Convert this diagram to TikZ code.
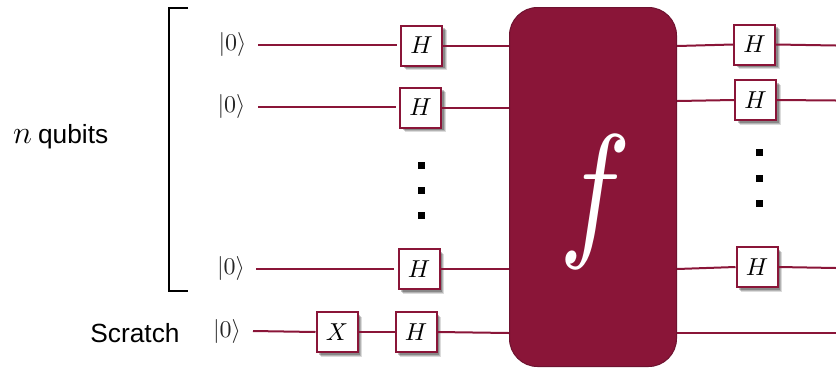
\documentclass[tikz,border=0pt]{standalone}
\usepackage{amsmath}
\usepackage{graphicx}
\usepackage{fontspec}
\setmainfont{Liberation Sans}
\usetikzlibrary{shadows}
\definecolor{wine}{HTML}{8A1538}
\definecolor{winedark}{HTML}{6E1230}
\newcommand{\gatesym}[1]{\raisebox{-1.5pt}{\scalebox{2.45}{$#1$}}}
\newcommand{\ketzero}{\scalebox{2.4}{$|0\rangle$}}
\tikzset{
  x=1pt,y=-1pt,
  softshade/.style={
    drop shadow={shadow xshift=4.5pt,shadow yshift=-4.5pt,fill=black,opacity=.14},
    drop shadow={shadow xshift=3.5pt,shadow yshift=-3.5pt,fill=black,opacity=.18},
    drop shadow={shadow xshift=2.5pt,shadow yshift=-2.5pt,fill=black,opacity=.24}},
  gate/.style={draw=wine,line width=2pt,fill=white,minimum width=41pt,minimum height=40pt,inner sep=0pt,softshade},
  wire/.style={draw=wine,line width=2pt},
  ket/.style={inner sep=0pt,text=black!85},
  lab/.style={font=\fontsize{26.3}{28}\selectfont,inner sep=0pt,text=black},
  dotm/.style={fill=black,minimum size=7pt,inner sep=0pt},
}
\begin{document}
\begin{tikzpicture}
\useasboundingbox (0,0) rectangle (836,368);
% big box
\node[draw=winedark,line width=1pt,fill=wine,rounded corners=28pt,minimum width=167pt,minimum height=359pt,inner sep=0pt] (fbox) at (593,187) {};
\node[text=white,inner sep=0pt] (flabel) at (595,202) {\scalebox{12}[15]{$f$}};
% kets
\node[ket] (k1) at (232.5,44) {\ketzero};
\node[ket] (k2) at (231.5,106) {\ketzero};
\node[ket] (k3) at (231,268) {\ketzero};
\node[ket] (k4) at (227,331) {\ketzero};
% wire starts and ends
\coordinate (s1) at (258,45);
\coordinate (s2) at (258,107);
\coordinate (s3) at (256,269);
\coordinate (s4) at (253,331);
\coordinate (e1) at (836,45.5);
\coordinate (e2) at (836,100.5);
\coordinate (e3) at (836,268);
\coordinate (e4) at (836,333);
% gates
\node[gate] (h1) at (421.5,45.5) {\gatesym{H}};
\node[gate] (h2) at (420.5,107.5) {\gatesym{H}};
\node[gate] (h3) at (419,269) {\gatesym{H}};
\node[gate] (x4) at (337,332) {\gatesym{X}};
\node[gate] (h4) at (416,332) {\gatesym{H}};
\node[gate] (r1) at (754.5,44.5) {\gatesym{H}};
\node[gate] (r2) at (755.5,100) {\gatesym{H}};
\node[gate] (r3) at (757,267) {\gatesym{H}};
% wires
\draw[wire] (s1) -- (397,45);
\draw[wire] (h1.east) -- (fbox.west |- h1.east);
\draw[wire] (s2) -- (396,107);
\draw[wire] (h2.east) -- (fbox.west |- h2.east);
\draw[wire] (s3) -- (394,269);
\draw[wire] (h3.east) -- (fbox.west |- h3.east);
\draw[wire] (s4) -- (x4.west);
\draw[wire] (x4.east) -- (h4.west);
\draw[wire] (h4.east) -- (fbox.west |- 0,333);
\draw[wire] (fbox.east |- 0,46) -- (r1.west);
\draw[wire] (r1.east) -- (e1);
\draw[wire] (fbox.east |- 0,101) -- (r2.west);
\draw[wire] (r2.east) -- (e2);
\draw[wire] (fbox.east |- 0,269) -- (r3.west);
\draw[wire] (r3.east) -- (e3);
\draw[wire] (fbox.east |- e4) -- (e4);
% dots
\node[dotm] (d1) at (421,165) {};
\node[dotm] (d2) at (421,190) {};
\node[dotm] (d3) at (421,215) {};
\node[dotm] (d4) at (759,152) {};
\node[dotm] (d5) at (759,178) {};
\node[dotm] (d6) at (759,203) {};
% bracket
\draw[black,line width=2pt] (188,8) -- (169,8) -- (169,291) -- (188,291);
% labels
\node[lab,anchor=base west] (nq) at (13,143) {\scalebox{1.3}{$n$}\hspace{6pt}qubits};
\node[lab] (sc) at (135,333) {Scratch};
\end{tikzpicture}
\end{document}
